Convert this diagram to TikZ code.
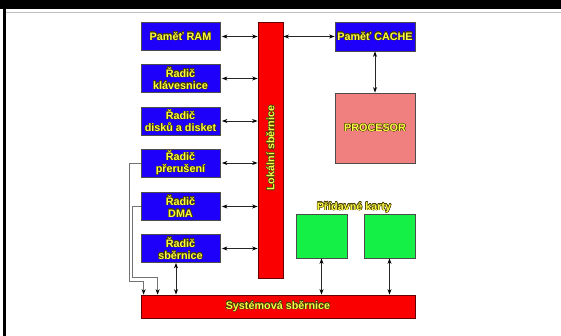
\documentclass[tikz,border=0pt]{standalone}
\usepackage{fontspec}
\setmainfont{Liberation Sans}
\usepackage[copies]{contour}
\contourlength{0.4pt}
\usetikzlibrary{arrows.meta}
\definecolor{boxblue}{RGB}{30,0,250}
\definecolor{busred}{RGB}{250,0,0}
\definecolor{procpink}{RGB}{240,128,128}
\definecolor{cardgreen}{RGB}{20,240,70}
\definecolor{txty}{RGB}{250,250,70}
\definecolor{outl}{RGB}{70,60,0}
\newcommand\yt[1]{\contour{outl}{#1}}
\begin{document}
\begin{tikzpicture}[x=1pt,y=-1pt,
  lbl/.style={font=\bfseries\fontsize{10.8}{12}\selectfont, text=txty, align=center, inner sep=0},
  ctrl/.style={lbl, draw=black!70, line width=0.8pt, fill=boxblue, minimum width=79, minimum height=28},
  bus/.style={lbl, draw=black!60!red, line width=0.8pt, fill=busred},
  card/.style={draw=black!70, line width=0.8pt, fill=cardgreen, minimum width=51, minimum height=44, inner sep=0},
  tip/.tip={Stealth[length=5.5pt,width=4pt,black]},
  dbl/.style={tip-tip, line width=0.9pt, black!85},
  sgl/.style={-tip, line width=0.8pt, black!55}
]
\useasboundingbox (0,0) rectangle (561,336);
\fill[black] (0,0) rectangle (561,9);
\fill[black] (3,9) rectangle (6,336);
\draw[black!25, line width=1.2pt] (6,12.5) -- (561,12.5);

% controllers
\node[ctrl] (ram) at (180.5,36.5) {\yt{Paměť RAM}};
\node[ctrl] (rk) at (180.5,78.5) {\yt{Řadič}\\\yt{klávesnice}};
\node[ctrl] (rdd) at (180.5,121) {\yt{Řadič}\\\yt{disků a disket}};
\node[ctrl] (rp) at (180.5,163) {\yt{Řadič}\\\yt{přerušení}};
\node[ctrl] (rd) at (180.5,206.5) {\yt{Řadič}\\\yt{DMA}};
\node[ctrl] (rs) at (180.5,248.5) {\yt{Řadič}\\\yt{sběrnice}};

% local bus
\node[bus, minimum width=25, minimum height=256] (lbus) at (270.5,150) {};
\node[lbl, rotate=90] (lbuslbl) at (270.5,148) {\yt{Lokální sběrnice}};

% cache and processor
\node[ctrl, minimum width=80, minimum height=29] (cache) at (375,36.5) {\yt{Paměť CACHE}};
\node[lbl, draw=black!70, line width=0.8pt, fill=procpink, minimum width=80, minimum height=70] (proc) at (375,128) {\yt{PROCESOR}};

% cards
\node[lbl] (cardlbl) at (354,207.5) {\yt{Přídavné karty}};
\node[card] (c1) at (321.5,236) {};
\node[card] (c2) at (389.5,236) {};

% system bus
\node[bus, minimum width=274, minimum height=23] (sbus) at (278,306.5) {\yt{Systémová sběrnice}};

% connectors
\foreach \b in {ram,rk,rdd,rp,rd,rs}
  \draw[dbl, shorten <=1.5pt] (\b.east) -- (\b.east -| lbus.west);
\draw[dbl] (lbus.east |- cache.west) -- (cache.west);
\draw[dbl] (cache.south) -- (proc.north);
\draw[dbl] (c1.south) -- (c1.south |- sbus.north);
\draw[dbl] (c2.south) -- (c2.south |- sbus.north);
\draw[dbl] ([xshift=-4.5pt]rs.south) -- ([xshift=-4.5pt]rs.south |- sbus.north);
\draw[sgl] (rp.west) -- ++(-11,0) -- ++(0,118) -| ([xshift=3pt]sbus.north west);
\draw[sgl] (rd.west) -- ++(-8,0) -- ++(0,70.5) -| ([xshift=17pt]sbus.north west);
\end{tikzpicture}
\end{document}
